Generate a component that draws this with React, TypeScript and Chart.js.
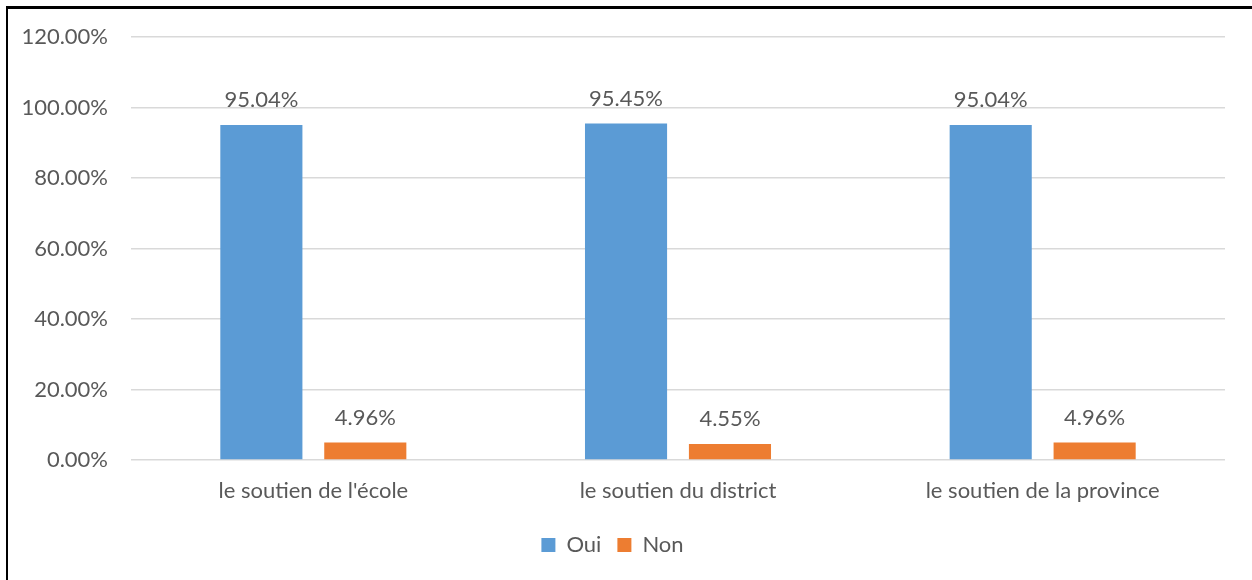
import React, { useEffect, useRef } from "react";
import { Chart, registerables } from "chart.js";

Chart.register(...registerables);

const categories = ["le soutien de l'école", "le soutien du district", "le soutien de la province"];
const seriesNames = ["Oui", "Non"];
const ouiValues = [95.04, 95.45, 95.04];
const nonValues = [4.96, 4.55, 4.96];
const seriesColors = ["#5B9BD5", "#ED7D31"];
const yTicks = [0, 20, 40, 60, 80, 100, 120];

const FONT = "Lato, 'Open Sans', sans-serif";
const TEXT = "#595959";
const FS = 22;

const labelPlugin = {
  id: "barValueLabels",
  afterDatasetsDraw(chart: any) {
    const ctx = chart.ctx;
    ctx.save();
    ctx.font = `${FS}px ${FONT}`;
    ctx.fillStyle = TEXT;
    ctx.textAlign = "center";
    ctx.textBaseline = "alphabetic";
    chart.data.datasets.forEach((ds: any, di: number) => {
      const meta = chart.getDatasetMeta(di);
      meta.data.forEach((bar: any, i: number) => {
        const v = ds.data[i] as number;
        ctx.fillText(v.toFixed(2) + "%", bar.x, bar.y - 17.5);
      });
    });
    ctx.restore();
  },
};

export default function App() {
  const ref = useRef<HTMLCanvasElement | null>(null);
  useEffect(() => {
    if (!ref.current) return;
    const chart = new Chart(ref.current, {
      type: "bar",
      data: {
        labels: categories,
        datasets: [
          { label: seriesNames[0], data: ouiValues, backgroundColor: seriesColors[0] },
          { label: seriesNames[1], data: nonValues, backgroundColor: seriesColors[1] },
        ],
      },
      options: {
        animation: false,
        responsive: false,
        maintainAspectRatio: false,
        layout: { padding: { left: 0, right: 27, top: 37, bottom: 14 } },
        datasets: { bar: { categoryPercentage: 0.57, barPercentage: 0.79 } },
        plugins: {
          tooltip: { enabled: false },
          legend: {
            position: "bottom",
            labels: {
              color: TEXT,
              font: { family: FONT, size: FS },
              boxWidth: 14,
              boxHeight: 14,
              padding: 16,
            },
          },
        },
        scales: {
          x: {
            grid: { display: false, drawTicks: false },
            border: { display: false },
            ticks: { color: TEXT, font: { family: FONT, size: FS }, padding: 18 },
            afterFit(scale: any) {
              scale.height = 58;
            },
          },
          y: {
            min: 0,
            max: 120,
            afterBuildTicks(scale: any) {
              scale.ticks = yTicks.map((v) => ({ value: v }));
            },
            grid: { color: "#D9D9D9", lineWidth: 1.5, drawTicks: false },
            border: { display: false },
            ticks: {
              color: TEXT,
              font: { family: FONT, size: FS },
              padding: 23,
              callback: (v: any) => Number(v).toFixed(2) + "%",
            },
            afterFit(scale: any) {
              scale.width = 131;
            },
          },
        },
      },
      plugins: [labelPlugin],
    });
    return () => chart.destroy();
  }, []);

  return (
    <div style={{ position: "fixed", left: 0, top: 0, width: 1252, height: 580, background: "#fff", overflow: "hidden" }}>
      <canvas ref={ref} width={1252} height={580} style={{ position: "absolute", left: 0, top: 0, width: 1252, height: 580 }} />
      <div
        style={{
          position: "absolute",
          left: 6,
          top: 6,
          width: 1300,
          height: 600,
          borderLeft: "2px solid #000",
          borderTop: "3px solid #000",
          pointerEvents: "none",
        }}
      />
    </div>
  );
}
